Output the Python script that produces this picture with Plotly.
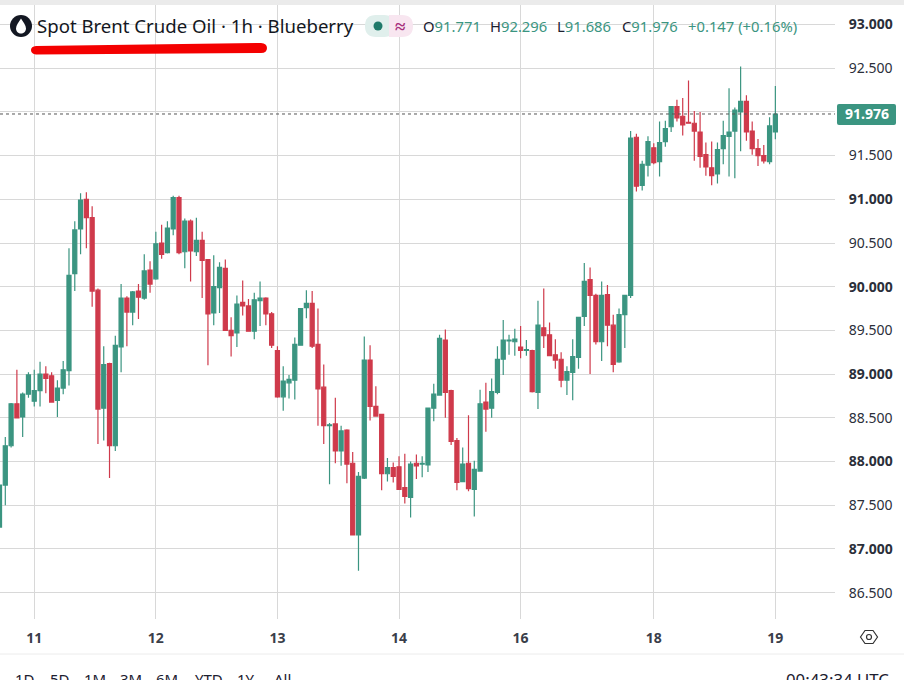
import plotly.graph_objects as go

W, H = 904, 680

opens = [87.25, 87.73, 88.18, 88.66, 88.51, 88.77, 88.69, 88.81, 89.00, 88.98, 88.70, 88.84, 89.04, 90.15, 90.66,
         91.00, 90.79, 89.96, 88.61, 89.12, 88.18, 89.31, 89.87, 89.71, 89.95, 89.87, 90.19, 90.09, 90.50, 90.39,
         90.66, 91.02, 90.40, 90.75, 90.40, 90.53, 90.31, 89.70, 89.99, 90.21, 89.50, 89.47, 89.82, 89.78, 89.49,
         89.84, 89.87, 89.69, 89.27, 88.74, 88.90, 88.93, 89.33, 89.76, 89.81, 89.34, 88.85, 88.41, 88.43, 88.12,
         88.36, 87.98, 87.16, 87.81, 89.16, 88.63, 88.54, 87.86, 87.93, 87.94, 87.70, 87.59, 87.98, 87.97, 87.96,
         88.61, 88.76, 89.39, 88.81, 88.24, 87.77, 87.98, 87.68, 87.89, 88.68, 88.61, 88.79, 89.17, 89.38, 89.37,
         89.31, 89.27, 89.27, 88.79, 89.53, 89.45, 89.22, 89.17, 88.93, 89.02, 89.19, 89.66, 90.08, 89.90, 89.37,
         89.91, 89.56, 89.14, 89.68, 89.90, 91.71, 91.16, 91.39, 91.59, 91.43, 91.66, 91.83, 92.06, 91.95, 91.88,
         91.87, 91.77, 91.51, 91.36, 91.29, 91.58, 91.72, 91.78, 92.00, 92.12, 91.78, 91.58, 91.50, 91.43, 91.771]
highs = [87.73, 88.28, 88.67, 89.05, 88.79, 89.02, 89.05, 89.14, 89.09, 89.02, 88.93, 89.15, 90.44, 90.75, 91.07,
         91.08, 90.92, 89.98, 89.32, 89.13, 89.44, 90.03, 89.89, 89.95, 90.03, 90.37, 90.29, 90.63, 90.71, 90.75,
         91.04, 91.04, 90.78, 90.77, 90.79, 90.63, 90.31, 90.36, 90.28, 90.31, 89.65, 89.90, 90.07, 89.86, 89.93,
         90.06, 89.88, 89.71, 89.32, 89.09, 88.99, 89.42, 89.75, 89.96, 89.95, 89.75, 89.11, 88.44, 88.73, 88.41,
         88.37, 88.11, 87.88, 89.43, 89.33, 88.86, 88.54, 88.04, 87.99, 88.06, 88.09, 88.00, 88.08, 88.06, 88.61,
         88.89, 89.45, 89.51, 88.82, 88.27, 88.16, 88.53, 88.01, 88.82, 88.90, 88.95, 89.32, 89.62, 89.45, 89.52,
         89.55, 89.39, 89.28, 89.84, 89.98, 89.59, 89.40, 89.25, 89.09, 89.40, 89.65, 90.27, 90.22, 89.92, 90.06,
         90.02, 89.68, 89.75, 89.90, 91.78, 91.75, 91.44, 91.72, 91.64, 91.89, 91.90, 92.06, 92.14, 92.16, 92.36,
         92.01, 92.00, 91.65, 91.66, 91.65, 91.90, 92.27, 92.05, 92.52, 92.19, 91.89, 91.69, 91.62, 91.94, 92.296]
lows = [87.25, 87.50, 88.16, 88.50, 88.28, 88.73, 88.63, 88.63, 88.78, 88.68, 88.51, 88.77, 88.87, 89.95, 90.37,
        90.44, 89.77, 88.20, 88.24, 87.81, 88.12, 89.02, 89.32, 89.56, 89.63, 89.85, 89.93, 90.08, 90.32, 90.38,
        90.59, 90.37, 90.21, 90.06, 90.35, 89.87, 89.10, 89.56, 89.70, 89.50, 89.20, 89.31, 89.67, 89.49, 89.40,
        89.55, 89.56, 89.30, 88.73, 88.58, 88.72, 88.71, 89.33, 89.64, 89.30, 88.41, 88.20, 87.74, 87.98, 87.95,
        87.75, 87.16, 86.75, 87.80, 88.47, 88.52, 87.67, 87.77, 87.76, 87.68, 87.52, 87.36, 87.80, 87.82, 87.88,
        88.46, 88.76, 88.50, 88.19, 87.67, 87.77, 87.66, 87.37, 87.89, 88.34, 88.50, 88.77, 88.99, 89.22, 89.21,
        89.18, 89.21, 88.79, 88.60, 89.30, 89.21, 89.06, 88.85, 88.76, 88.70, 89.06, 89.55, 89.00, 89.34, 89.15,
        89.32, 89.02, 89.13, 89.30, 89.87, 91.09, 91.10, 91.26, 91.40, 91.26, 91.60, 91.77, 91.89, 91.73, 91.87,
        91.44, 91.36, 91.27, 91.16, 91.18, 91.40, 91.26, 91.24, 91.55, 91.67, 91.51, 91.38, 91.41, 91.40, 91.686]
closes = [87.73, 88.18, 88.66, 88.50, 88.77, 88.99, 88.81, 89.00, 88.95, 88.68, 88.84, 89.05, 90.13, 90.65, 90.99,
          90.79, 89.95, 88.60, 89.11, 88.18, 89.33, 89.87, 89.71, 89.94, 89.88, 90.18, 90.03, 90.49, 90.37, 90.67,
          91.02, 90.39, 90.75, 90.41, 90.53, 90.30, 89.69, 90.00, 90.22, 89.50, 89.44, 89.80, 89.78, 89.49, 89.85,
          89.87, 89.69, 89.33, 88.74, 88.92, 88.94, 89.34, 89.75, 89.81, 89.32, 88.83, 88.41, 88.42, 88.12, 88.35,
          87.97, 87.16, 87.83, 89.16, 88.63, 88.52, 87.86, 87.93, 87.83, 87.68, 87.60, 87.97, 87.95, 87.98, 88.61,
          88.77, 89.41, 88.79, 88.23, 87.76, 87.97, 87.69, 87.91, 88.66, 88.60, 88.80, 89.17, 89.39, 89.39, 89.40,
          89.27, 89.28, 88.80, 89.56, 89.44, 89.21, 89.16, 88.93, 89.03, 89.20, 89.65, 90.06, 89.90, 89.37, 89.90,
          89.56, 89.11, 89.68, 89.90, 91.70, 91.15, 91.40, 91.66, 91.42, 91.65, 91.81, 92.06, 91.93, 91.85, 91.87,
          91.78, 91.49, 91.37, 91.27, 91.57, 91.73, 91.77, 92.02, 92.12, 91.77, 91.58, 91.50, 91.44, 91.84, 91.976]

day_ticks = [6, 27, 48, 69, 90, 113, 134]
day_labels = ["11", "12", "13", "14", "16", "18", "19"]
price_ticks = [86.5, 87.0, 87.5, 88.0, 88.5, 89.0, 89.5, 90.0, 90.5, 91.0, 91.5, 92.0, 92.5, 93.0]
ranges = ["1D", "5D", "1M", "3M", "6M", "YTD", "1Y", "All"]
range_x = [25, 60, 95, 131, 167, 209, 246, 282]

GREEN = "#3b9581"
RED = "#cf3a4b"
GRID = "#d8d8d8"
INK = "#1c2030"
FONT = "Noto Sans"


def px(x):
    return x / W


def py(y):
    return 1 - y / H


def pt(x, y):
    return f"{px(x):.5f} {py(y):.5f}"


def rounded(x0, y0, x1, y1, r):
    return (f"M {pt(x0 + r, y0)} L {pt(x1 - r, y0)} Q {pt(x1, y0)} {pt(x1, y0 + r)} "
            f"L {pt(x1, y1 - r)} Q {pt(x1, y1)} {pt(x1 - r, y1)} "
            f"L {pt(x0 + r, y1)} Q {pt(x0, y1)} {pt(x0, y1 - r)} "
            f"L {pt(x0, y0 + r)} Q {pt(x0, y0)} {pt(x0 + r, y0)} Z")


def paper_path(path, fill="rgba(0,0,0,0)", line=None, width=0, layer="above"):
    return dict(type="path", xref="paper", yref="paper", path=path, fillcolor=fill,
                line=dict(color=line or "rgba(0,0,0,0)", width=width), layer=layer)


def label(x, y, text, size=14, color=INK, anchor="left", family=FONT):
    return dict(xref="paper", yref="paper", x=px(x), y=py(y), text=text, showarrow=False,
                xanchor=anchor, yanchor="middle", font=dict(family=family, size=size, color=color),
                xshift=0, yshift=0, borderpad=0, borderwidth=0)


fig = go.Figure()
fig.add_trace(go.Candlestick(
    x=list(range(len(closes))),
    open=opens, high=highs, low=lows, close=closes,
    increasing=dict(line=dict(color=GREEN, width=1.2), fillcolor=GREEN),
    decreasing=dict(line=dict(color=RED, width=1.2), fillcolor=RED),
    whiskerwidth=0,
    hoverinfo="skip",
))

shapes = [
    # top strip and bottom separator
    dict(type="rect", xref="paper", yref="paper", x0=0, x1=1, y0=py(5), y1=1,
         fillcolor="#ebebeb", line=dict(width=0), layer="above"),
    dict(type="line", xref="paper", yref="paper", x0=0, x1=1, y0=py(654), y1=py(654),
         line=dict(color="#ececec", width=1)),
    # last price line and its tag
    dict(type="line", xref="x domain", yref="y", x0=0, x1=1, y0=closes[-1], y1=closes[-1],
         line=dict(color="#555555", width=1, dash="dot"), layer="above"),
    paper_path(rounded(837, 104, 896, 125, 2), fill=GREEN),
    # symbol icon
    dict(type="circle", xref="paper", yref="paper", x0=px(10), x1=px(32), y0=py(15), y1=py(37),
         fillcolor="#131722", line=dict(width=0), layer="above"),
    paper_path(f"M {pt(21, 18.5)} C {pt(23, 22)} {pt(26, 25)} {pt(26, 28.5)} "
               f"C {pt(26, 31.5)} {pt(23.5, 33.5)} {pt(21, 33.5)} "
               f"C {pt(18.5, 33.5)} {pt(16, 31.5)} {pt(16, 28.5)} "
               f"C {pt(16, 25)} {pt(19, 22)} {pt(21, 18.5)} Z", fill="white"),
    # hand drawn underline
    paper_path(f"M {pt(36, 46)} L {pt(261, 43)} Q {pt(267, 43.5)} {pt(267, 48)} Q {pt(267, 53)} {pt(261, 53)} "
               f"L {pt(36, 54.5)} Q {pt(31, 54)} {pt(31, 50)} Q {pt(31, 46.5)} {pt(36, 46)} Z", fill="#f40000"),
    # status pills
    paper_path(rounded(365, 15, 395, 37, 11), fill="#e0efec"),
    paper_path(f"M {pt(389, 15)} L {pt(402, 15)} Q {pt(413, 15)} {pt(413, 26)} Q {pt(413, 37)} {pt(402, 37)} "
               f"L {pt(389, 37)} Z", fill="#f8e6f0"),
    dict(type="circle", xref="paper", yref="paper", x0=px(373.5), x1=px(382.5), y0=py(21.5), y1=py(30.5),
         fillcolor="#1f7a6a", line=dict(width=0), layer="above"),
    # settings hexagon
    paper_path(f"M {pt(860.5, 637)} L {pt(865, 630.5)} L {pt(873, 630.5)} L {pt(877.5, 637)} "
               f"L {pt(873, 643.5)} L {pt(865, 643.5)} Z", line="#333333", width=1.2),
    dict(type="circle", xref="paper", yref="paper", x0=px(866.5), x1=px(871.5), y0=py(634.5), y1=py(639.5),
         fillcolor="rgba(0,0,0,0)", line=dict(color="#333333", width=1.2), layer="above"),
]

annotations = [
    label(37, 26, "Spot Brent Crude Oil · 1h · Blueberry", size=18.6, color="#131722"),
    label(400, 26, "<b>≈</b>", size=19, color="#a62f7c", anchor="center"),
    label(423, 26, f'<span style="color:{INK}">O</span>{opens[-1]:.3f}', size=14.8, color=GREEN),
    label(490, 26, f'<span style="color:{INK}">H</span>{highs[-1]:.3f}', size=14.8, color=GREEN),
    label(557, 26, f'<span style="color:{INK}">L</span>{lows[-1]:.3f}', size=14.8, color=GREEN),
    label(622, 26, f'<span style="color:{INK}">C</span>{closes[-1]:.3f}', size=14.8, color=GREEN),
    label(688, 26, "+0.147 (+0.16%)", size=14.8, color=GREEN),
    dict(xref="paper", yref="y", x=px(866.5), y=closes[-1], text=f"<b>{closes[-1]:.3f}</b>", showarrow=False,
         xanchor="center", yanchor="middle", font=dict(family=FONT, size=14, color="white")),
    label(889, 679, "00:43:34 UTC", size=16.8, color="#1c2030", anchor="right"),
]
for name, x in zip(ranges, range_x):
    annotations.append(label(x, 679, name, size=15, color="#1c2030", anchor="center"))

fig.update_layout(
    width=W, height=H,
    margin=dict(l=0, r=0, t=0, b=0),
    paper_bgcolor="white",
    plot_bgcolor="white",
    showlegend=False,
    boxgap=0.3,
    boxgroupgap=0,
    shapes=shapes,
    annotations=annotations,
    hovermode=False,
    dragmode=False,
    xaxis=dict(
        domain=[0, 835 / W],
        range=[0.085, 144.3],
        rangeslider=dict(visible=False),
        tickmode="array", tickvals=day_ticks, ticktext=[f"<b>{d}</b>" for d in day_labels],
        tickfont=dict(family=FONT, size=14, color="#3a3e4a"),
        ticks="outside", ticklen=6, tickcolor="rgba(0,0,0,0)",
        showgrid=True, gridcolor=GRID, gridwidth=1,
        showline=False, zeroline=False,
    ),
    yaxis=dict(
        domain=[py(619), py(5)],
        range=[86.198, 93.223],
        side="right",
        tickmode="array", tickvals=price_ticks,
        ticktext=[f"<b>{p:.3f}</b>" if p == int(p) else f"{p:.3f}" for p in price_ticks],
        tickfont=dict(family=FONT, size=14, color="#2b2f3a"),
        ticks="outside", ticklen=10, tickcolor="rgba(0,0,0,0)",
        showgrid=True, gridcolor=GRID, gridwidth=1,
        showline=False, zeroline=False,
    ),
)

fig.write_html(
    "out.html",
    config=dict(displayModeBar=False),
    post_script="document.body.style.margin='0';document.body.style.overflow='hidden';",
)
